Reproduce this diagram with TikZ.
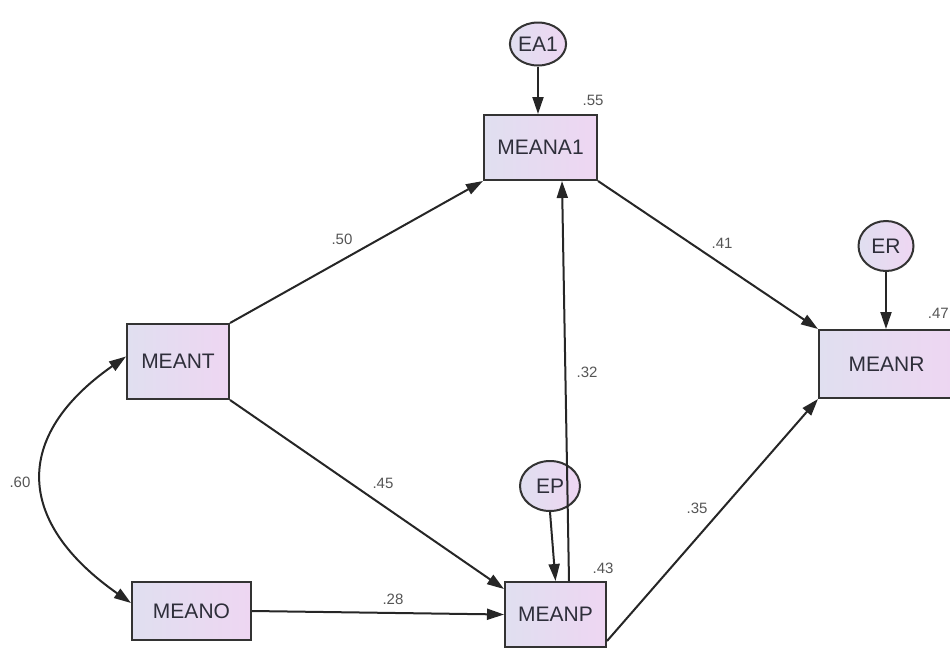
\documentclass[tikz,border=0pt]{standalone}
\usepackage{fontspec}
\setmainfont{Liberation Sans}
\usetikzlibrary{arrows.meta,shapes.geometric}

\definecolor{fillL}{HTML}{E0DFF0}
\definecolor{fillR}{HTML}{EED6F2}
\definecolor{edgeC}{HTML}{333333}
\definecolor{textC}{HTML}{2E2E3A}
\definecolor{labC}{HTML}{555555}

\tikzset{
  varbox/.style={draw=edgeC, line width=2pt, left color=fillL, right color=fillR,
    rectangle, inner sep=0pt, text=textC, font=\fontsize{21}{21}\selectfont},
  errvar/.style={draw=edgeC, line width=2pt, left color=fillL, right color=fillR,
    ellipse, inner sep=0pt, text=textC, font=\fontsize{21}{21}\selectfont},
  path/.style={draw=black!85, line width=2pt, -{Triangle[length=17pt,width=11pt]}},
  twoway/.style={draw=black!85, line width=2pt,
    {Triangle[length=17pt,width=11pt]}-{Triangle[length=17pt,width=11pt]}},
  coef/.style={text=labC, font=\fontsize{15}{15}\selectfont, inner sep=0pt}
}

\begin{document}
\begin{tikzpicture}[x=1pt,y=1pt]
\useasboundingbox (0,0) rectangle (950,-648);

% observed variables
\node[varbox, minimum width=113pt, minimum height=65pt] (A1) at (540.5,-147.5) {MEANA1};
\node[varbox, minimum width=135pt, minimum height=68pt] (R)  at (886.5,-364) {MEANR};
\node[varbox, minimum width=102pt, minimum height=75pt] (T)  at (178,-361.5) {MEANT};
\node[varbox, minimum width=119pt, minimum height=58pt] (O)  at (191.5,-611) {MEANO};
\node[varbox, minimum width=101pt, minimum height=65pt] (P)  at (555.5,-614.5) {MEANP};

% error terms
\node[errvar, minimum width=54pt, minimum height=43pt] (EA1) at (538,-44) {EA1};
\node[errvar, minimum width=55pt, minimum height=50pt] (ER)  at (886,-246) {ER};
\node[errvar, minimum width=60pt, minimum height=50pt] (EP)  at (550,-486) {EP};

% error paths
\draw[path] (EA1.south) -- (A1.north -| EA1.south);
\draw[path] (ER.south) -- (R.north -| ER.south);
\draw[path] (EP.south) -- (P.north);

% structural paths
\draw[path] (T.north east) -- (A1.south west);
\draw[path] (T.south east) -- ([yshift=-8pt]P.north west);
\draw[path] (O.east) -- (P.west);
\draw[path] ([xshift=13.5pt]P.north) -- ([xshift=21.5pt]A1.south);
\draw[path] (A1.south east) -- (R.north west);
\draw[path] ([yshift=7pt]P.south east) -- (R.south west);

% covariance
\draw[twoway] ([yshift=5pt]T.west) to[out=215, in=145, looseness=1.45] ([yshift=8pt]O.west);

% coefficients
\node[coef] (c55) at (593,-100) {.55};
\node[coef, anchor=east] (c47) at (949,-313) {.47};
\node[coef] (c50) at (342,-239) {.50};
\node[coef] (c45) at (383,-483) {.45};
\node[coef] (c32) at (587,-372) {.32};
\node[coef] (c41) at (722,-243) {.41};
\node[coef] (c35) at (697,-508) {.35};
\node[coef] (c43) at (603,-568) {.43};
\node[coef] (c28) at (393,-599) {.28};
\node[coef] (c60) at (20,-482) {.60};
\end{tikzpicture}
\end{document}
